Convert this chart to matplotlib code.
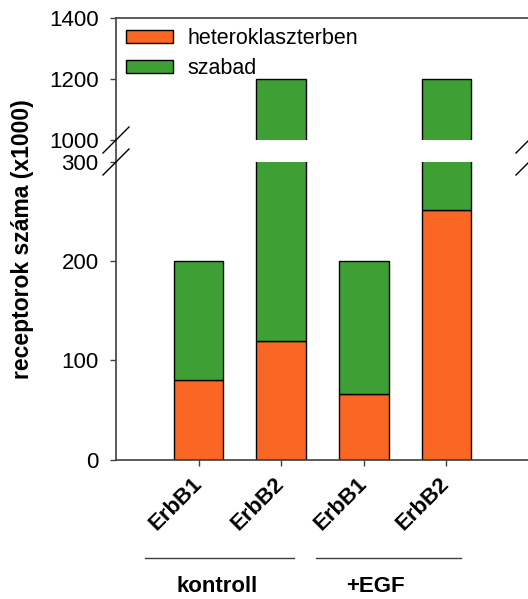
import matplotlib
matplotlib.use("Agg")
import matplotlib.pyplot as plt
from matplotlib.lines import Line2D
from matplotlib.patches import Patch

# Receptor counts (x1000): clustered vs. free, per receptor and condition
categories = ["ErbB1", "ErbB2", "ErbB1", "ErbB2"]
groups = ["kontroll", "+EGF"]
hetero = [80, 120, 66, 252]
total = [200, 1200, 200, 1200]
free = [t - h for t, h in zip(total, hetero)]
series_labels = ["heteroklaszterben", "szabad"]

lower_ticks = [0, 100, 200, 300]
upper_ticks = [1000, 1200, 1400]

plt.rcParams["font.family"] = ["Liberation Sans", "DejaVu Sans"]
ORANGE = "#FA6623"
GREEN = "#3E9F35"
SPINE = "#404040"
FS = 16

W, H = 528, 599
fig = plt.figure(figsize=(W / 100, H / 100), dpi=100)


def fx(px):
    return px / W


def fy(py):
    return 1 - py / H


x_left, x_right = 116, 529
up_top, up_bot = 18, 140
lo_top, lo_bot = 162, 459.5

ax_up = fig.add_axes([fx(x_left), fy(up_bot), fx(x_right - x_left), (up_bot - up_top) / H])
ax_lo = fig.add_axes([fx(x_left), fy(lo_bot), fx(x_right - x_left), (lo_bot - lo_top) / H])

pos = [1, 2, 3, 4]
for ax in (ax_up, ax_lo):
    ax.bar(pos, hetero, width=0.6, color=ORANGE, edgecolor="black", linewidth=1)
    ax.bar(pos, free, bottom=hetero, width=0.6, color=GREEN, edgecolor="black", linewidth=1)
    ax.set_xlim(0, 5)
    ax.spines["right"].set_visible(False)
    for s in ax.spines.values():
        s.set_color(SPINE)
        s.set_linewidth(1.2)
    ax.tick_params(axis="y", direction="out", length=4.5, width=1, colors=SPINE,
                   labelcolor="black", labelsize=FS, pad=8)

ax_up.set_ylim(1000, 1400)
ax_up.set_yticks(upper_ticks)
ax_up.spines["bottom"].set_visible(False)
ax_up.tick_params(axis="x", bottom=False, labelbottom=False)

ax_lo.set_ylim(0, 300)
ax_lo.set_yticks(lower_ticks)
ax_lo.spines["top"].set_visible(False)
ax_lo.set_xticks(pos)
ax_lo.set_xticklabels(categories, rotation=45, ha="right", va="center",
                      rotation_mode="anchor", fontweight="bold", fontsize=FS)
ax_lo.tick_params(axis="x", direction="out", length=4, width=1, colors=SPINE,
                  labelcolor="black", pad=11)

# continuous left spine across the gap
fig.add_artist(Line2D([fx(x_left), fx(x_left)], [fy(up_bot), fy(lo_top)],
                      color=SPINE, linewidth=1.2))

# axis break marks
d = 13
for xc in (x_left, x_right):
    for yc in (up_bot, lo_top):
        fig.add_artist(Line2D([fx(xc - d), fx(xc + d)], [fy(yc + d), fy(yc - d)],
                              color="black", linewidth=1))

# legend
handles = [Patch(facecolor=ORANGE, edgecolor="black", linewidth=1),
           Patch(facecolor=GREEN, edgecolor="black", linewidth=1)]
ax_up.legend(handles, series_labels, loc="upper left", frameon=False, fontsize=15.5,
             handlelength=2.2, handleheight=0.55, handletextpad=0.65,
             labelspacing=0.42, borderaxespad=0.2, borderpad=0.25)

# y label
fig.text(fx(22.5), fy(239), "receptorok száma (x1000)", rotation=90, ha="center",
         va="center", fontsize=16.5, fontweight="bold")

# group brackets
group_spans = [(145, 294), (316, 461)]
for (a, b), name in zip(group_spans, groups):
    fig.add_artist(Line2D([fx(a), fx(b)], [fy(557.5), fy(557.5)], color=SPINE, linewidth=1))
group_text_x = [217, 375]
for gx, name in zip(group_text_x, groups):
    fig.text(fx(gx), fy(587), name, ha="center", va="center", fontsize=FS, fontweight="bold")

fig.savefig("out.png", dpi=100)
